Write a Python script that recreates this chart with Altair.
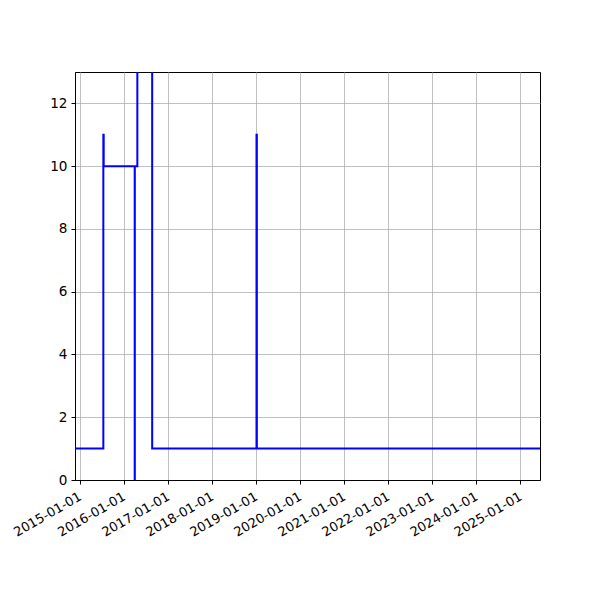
import altair as alt
import pandas as pd

dates = [
    "2014-11-21", "2015-07-14", "2015-07-17", "2016-03-30", "2016-03-31",
    "2016-04-21", "2016-08-22", "2019-01-04", "2019-01-07", "2025-06-12",
]
values = [1, 11, 10, 0, 10, 20, 1, 11, 1, 1]

tick_years = list(range(2015, 2026))
y_ticks = [0, 2, 4, 6, 8, 10, 12]

df = pd.DataFrame({"date": dates, "value": values})

x_ticks = [alt.DateTime(year=y, month=1, date=1, utc=True) for y in tick_years]

chart = (
    alt.Chart(df)
    .mark_line(interpolate="step-after", color="#0000ff", strokeWidth=2, clip=True)
    .encode(
        x=alt.X(
            "date:T",
            scale=alt.Scale(
                type="utc",
                domain=[
                    alt.DateTime(year=2014, month=11, date=21, utc=True),
                    alt.DateTime(year=2025, month=6, date=12, utc=True),
                ],
                nice=False,
            ),
            axis=alt.Axis(
                values=x_ticks,
                labelExpr="utcFormat(datum.value, '%Y-%m-%d')",
                labelAngle=330,
                labelAlign="right",
                labelBaseline="top",
                labelOverlap=False,
                labelBound=False,
                labelFlush=False,
                labelOffset=-3,
                labelFontSize=13,
                title=None,
                labelPadding=6,
            ),
        ),
        y=alt.Y(
            "value:Q",
            scale=alt.Scale(domain=[0, 13], nice=False, zero=False),
            axis=alt.Axis(values=y_ticks, title=None, labelPadding=4, labelFontSize=13.6),
        ),
    )
    .properties(
        width=465,
        height=408,
        autosize=alt.AutoSizeParams(type="none"),
        padding={"left": 67, "top": 64, "right": 52, "bottom": 112},
    )
    .configure_view(stroke="black", strokeWidth=1)
    .configure_axis(
        domainColor="black",
        domainWidth=1,
        tickColor="black",
        tickSize=4,
        tickWidth=1,
        labelColor="black",
        labelFont="DejaVu Sans",
        gridColor="#b0b0b0",
        gridWidth=0.8,
        grid=True,
    )
)

chart.save("out.html", embed_options={"renderer": "svg", "actions": False})
